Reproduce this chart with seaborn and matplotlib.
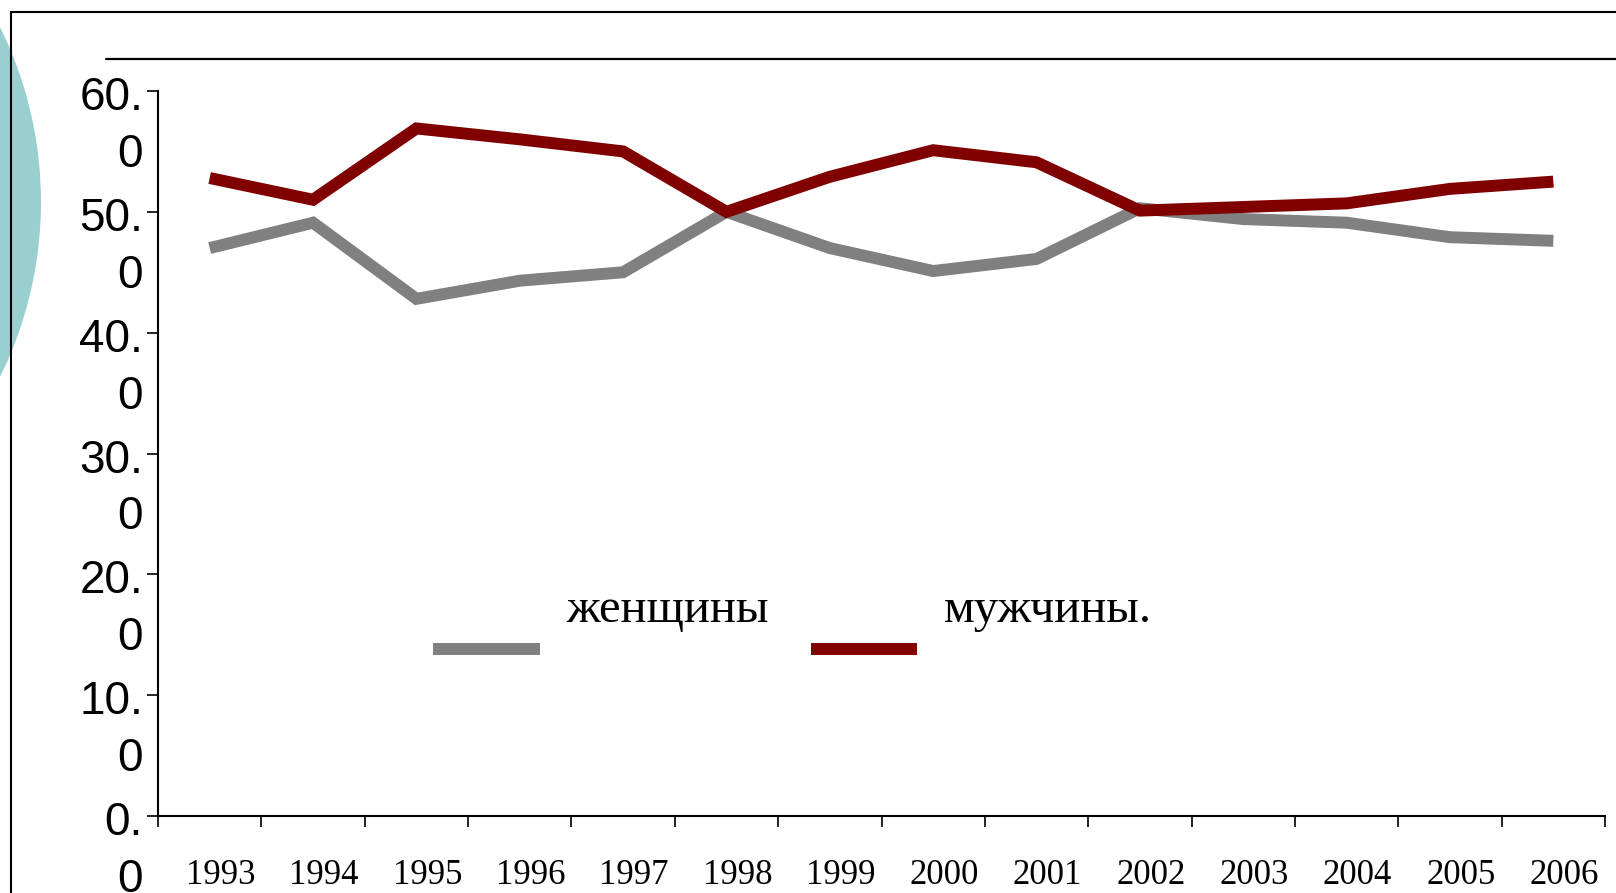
import numpy as np
import pandas as pd
import matplotlib
matplotlib.use("Agg")
import matplotlib.pyplot as plt
import matplotlib.transforms as mtransforms
from matplotlib.patches import Ellipse, Rectangle
from matplotlib.lines import Line2D
import seaborn as sns

# data
years = list(range(1993, 2007))
women = [47.0, 49.1, 42.8, 44.3, 45.0, 50.0, 47.0, 45.1, 46.1, 50.3, 49.4, 49.1, 47.9, 47.6]
men = [52.8, 51.0, 56.9, 56.0, 55.0, 50.0, 52.9, 55.1, 54.1, 50.1, 50.4, 50.7, 51.9, 52.5]
series_names = ["женщины", "мужчины."]
series_colors = ["#808080", "#800000"]
y_ticks = [0, 10, 20, 30, 40, 50, 60]

df = pd.DataFrame({
    "year": years * 2,
    "value": women + men,
    "sex": [series_names[0]] * len(years) + [series_names[1]] * len(years),
})

sns.set_style("ticks", {"axes.edgecolor": "black", "text.color": "black",
                        "xtick.color": "black", "ytick.color": "black"})
plt.rcParams["font.family"] = ["Liberation Sans", "DejaVu Sans"]

W, H = 1616, 893
fig = plt.figure(figsize=(W / 100, H / 100), dpi=100)
fig.patch.set_facecolor("white")

# slide decoration: teal circle, frame and top rule
fig.add_artist(Ellipse((-353 / W, 1 - 202 / H), 2 * 394 / W, 2 * 394 / H,
                       transform=fig.transFigure, facecolor="#9ACFD0",
                       edgecolor="none", zorder=0))
fig.add_artist(Rectangle((11 / W, -0.2), 1.2, 1.2 - 12 / H,
                         transform=fig.transFigure, fill=False,
                         edgecolor="black", lw=1.5, zorder=1))
fig.add_artist(Line2D([106 / W, 1.0], [1 - 59 / H, 1 - 59 / H],
                      transform=fig.transFigure, color="black", lw=1.6, zorder=1))

ax = fig.add_axes([158 / W, 77 / H, (1605 - 158) / W, (816 - 91) / H])
ax.patch.set_alpha(0)

sns.lineplot(data=df, x="year", y="value", hue="sex",
             palette=dict(zip(series_names, series_colors)),
             linewidth=8.6, legend=False, ax=ax)
for ln in ax.lines:
    ln.set_solid_capstyle("butt")
    ln.set_solid_joinstyle("miter")

ax.set_xlim(years[0] - 0.5, years[-1] + 0.5)
ax.set_ylim(0, 60)
ax.set_xlabel("")
ax.set_ylabel("")

# category axis: ticks between years, labels in the middle
ax.set_xticks(np.arange(years[0] - 0.5, years[-1] + 1, 1))
ax.set_xticklabels([])
ax.set_xticks(years, minor=True)
ax.set_xticklabels([str(y) for y in years], minor=True,
                   fontfamily="Liberation Serif", fontsize=25, color="black")
ax.tick_params(axis="x", which="major", direction="out", length=8, width=1.2)
ax.tick_params(axis="x", which="minor", length=0, pad=31)
shift = mtransforms.ScaledTranslation(11 / 100, 0, fig.dpi_scale_trans)
for lab in ax.get_xticklabels(minor=True):
    lab.set_transform(lab.get_transform() + shift)

ax.set_yticks(y_ticks)
ax.set_yticklabels([])
ax.tick_params(axis="y", direction="out", length=8, width=1.2)

sns.despine(ax=ax)
for side in ["left", "bottom"]:
    ax.spines[side].set_linewidth(1.5)

# wrapped y labels like "60.\n0"
off = mtransforms.ScaledTranslation(-15 / 100, 15 / 100, fig.dpi_scale_trans)
ytrans = mtransforms.blended_transform_factory(ax.transAxes, ax.transData) + off
for v in y_ticks:
    lab = f"{v:.1f}".replace(".", ".\n")
    ax.text(0, v, lab, transform=ytrans, ha="right", va="top", color="black",
            fontsize=33, linespacing=1.38, clip_on=False)

leg = ax.legend(handles=ax.lines[:2], labels=[n + "\n" for n in series_names],
                ncol=2, frameon=False, loc="upper left",
                bbox_to_anchor=(433 / W, 1 - 588 / H), bbox_transform=fig.transFigure,
                prop={"family": "Liberation Serif", "size": 35},
                handlelength=2.2, handletextpad=0.55, columnspacing=0.85,
                borderpad=0, borderaxespad=0)
for t in leg.get_texts():
    t.set_linespacing(2.0)
    t.set_color("black")

fig.savefig("out.png", dpi=100)
